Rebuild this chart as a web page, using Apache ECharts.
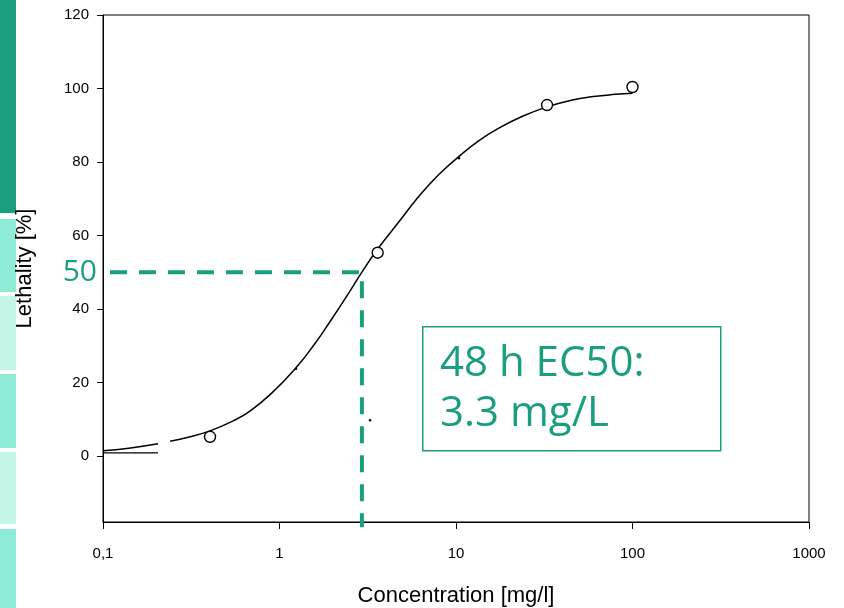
<!DOCTYPE html>
<html>
<head>
<meta charset="utf-8">
<script src="https://cdn.jsdelivr.net/npm/echarts@6/dist/echarts.min.js"></script>
<style>
html,body{margin:0;padding:0;background:#fff;}
#chart{width:844px;height:608px;}
</style>
</head>
<body>
<div id="chart"></div>
<script>
// ---- data ----
var xTickValues = [0.1, 1, 10, 100, 1000];
var xTickLabels = ['0,1', '1', '10', '100', '1000'];
var yTickValues = [0, 20, 40, 60, 80, 100, 120];

// observed data points (concentration mg/l, lethality %)
var obsConc = [0.404, 3.6, 32.8, 100];
var obsLeth = [5.2, 55.3, 95.5, 100.4];

// tiny remnant marks
var dotConc = [1.24, 10.4, 3.26];
var dotLeth = [23.7, 81.0, 9.7];

// fitted curve (null = visible gap in the line)
var curveConc = [0.1, 0.14, 0.205, 0.24, 0.3, 0.404, 0.55, 0.68, 0.9, 1.24, 1.6, 1.93, 2.4, 2.93, 3.6, 4.8, 6, 7.1, 8.5, 10.4, 13.5, 17.8, 24, 32.8, 45, 60, 80, 100];
var curveLeth = [1.4, 2.1, 3.3, null, 5.0, 6.8, 9.6, 12.2, 17.0, 24.0, 30.8, 36.5, 43.4, 50.0, 56.3, 64.0, 70.0, 74.0, 77.8, 81.5, 85.8, 89.4, 92.5, 95.0, 96.8, 97.8, 98.4, 98.7];
var curveLeth2 = 4.0;

// short flat line near zero at the left end
var flatConc = [0.1, 0.205];
var flatLeth = [0.8, 0.8];

// EC50 guide
var ec50X = 2.93;
var ec50Y = 50;
var guideStartX = 0.1095;
var guideEndY = -19.4;
var ec50Label = '50';
var boxLines = ['48 h EC50:', '3.3 mg/L'];

var GREEN = '#1a9e80';

function pairs(xs, ys) {
  return xs.map(function (x, i) { return [x, ys[i]]; });
}
var curveData = [];
curveConc.forEach(function (x, i) {
  if (curveLeth[i] === null) {
    curveData.push([x, '-']);
    curveData.push([x, curveLeth2]);
  } else {
    curveData.push([x, curveLeth[i]]);
  }
});

var chart = echarts.init(document.getElementById('chart'), null, {renderer: 'canvas'});
var tickFont = {fontFamily: 'Liberation Sans, Arial, sans-serif', fontSize: 15, color: '#000'};
var nameFont = {fontFamily: 'Liberation Sans, Arial, sans-serif', fontSize: 22, color: '#000'};

var option = {
  animation: false,
  backgroundColor: '#fff',
  grid: {left: 103, right: 35, top: 15, bottom: 86, containLabel: false, outerBoundsMode: 'none',
    show: true, borderColor: '#000', borderWidth: 1, backgroundColor: 'transparent'},
  xAxis: {
    type: 'log', logBase: 10, min: 0.1, max: 1000,
    name: 'Concentration [mg/l]', nameLocation: 'middle', nameGap: 63,
    nameTextStyle: nameFont,
    axisLine: {onZero: false, lineStyle: {color: '#000', width: 1}},
    axisTick: {show: true, length: 7, lineStyle: {color: '#000'}},
    minorTick: {show: false},
    splitLine: {show: false},
    axisLabel: Object.assign({margin: 24, formatter: function (v) {
      var k = Math.round(Math.log10(v)) + 1;
      return xTickLabels[k] !== undefined ? xTickLabels[k] : '';
    }}, tickFont)
  },
  yAxis: {
    type: 'value', min: -18, max: 120,
    name: 'Lethality [%]', nameLocation: 'middle', nameGap: 67, nameRotate: 90,
    nameTextStyle: nameFont,
    axisLine: {show: true, onZero: false, lineStyle: {color: '#000', width: 1}},
    axisTick: {show: true, length: 6, customValues: yTickValues, lineStyle: {color: '#000'}},
    splitLine: {show: false},
    axisLabel: Object.assign({margin: 14, customValues: yTickValues}, tickFont)
  },
  graphic: [
    {type: 'rect', left: 0, top: 0, shape: {width: 16, height: 213}, style: {fill: '#1a9e80'}, silent: true},
    {type: 'rect', left: 0, top: 219, shape: {width: 16, height: 73}, style: {fill: '#8eecd6'}, silent: true},
    {type: 'rect', left: 0, top: 296, shape: {width: 16, height: 74}, style: {fill: '#c3f5e8'}, silent: true},
    {type: 'rect', left: 0, top: 374, shape: {width: 16, height: 74}, style: {fill: '#8eecd6'}, silent: true},
    {type: 'rect', left: 0, top: 452, shape: {width: 16, height: 72}, style: {fill: '#c3f5e8'}, silent: true},
    {type: 'rect', left: 0, top: 529, shape: {width: 16, height: 79}, style: {fill: '#8eecd6'}, silent: true},
    {type: 'rect', left: 422, top: 326, shape: {width: 298, height: 124}, style: {fill: '#fff', stroke: GREEN, lineWidth: 1.5}, z: 100},
    {type: 'text', left: 440, top: 343, style: {text: boxLines[0], fill: GREEN, font: '42px "Open Sans", "Noto Sans", sans-serif'}, z: 101},
    {type: 'text', left: 440, top: 393, style: {text: boxLines[1], fill: GREEN, font: '42px "Open Sans", "Noto Sans", sans-serif'}, z: 101}
  ],
  series: [
    {
      type: 'line', name: 'guide', data: [[guideStartX, ec50Y], [ec50X, ec50Y], [ec50X, guideEndY]],
      symbol: 'none', clip: false, z: 3,
      lineStyle: {color: GREEN, width: 4, type: [17, 12]}
    },
    {
      type: 'scatter', name: 'label50', data: [[0.1, ec50Y]], symbolSize: 0,
      itemStyle: {opacity: 1, color: GREEN},
      label: {show: true, position: 'left', distance: 6, formatter: ec50Label, color: GREEN, opacity: 1,
        fontFamily: '"Open Sans", "Noto Sans", sans-serif', fontSize: 30}
    },
    {
      type: 'line', name: 'flat', data: pairs(flatConc, flatLeth), symbol: 'none',
      lineStyle: {color: '#000', width: 1.3}, z: 4
    },
    {
      type: 'line', name: 'curve', data: curveData, smooth: 0.5, symbol: 'none', connectNulls: false,
      lineStyle: {color: '#000', width: 1.5}, z: 4
    },
    {
      type: 'scatter', name: 'dots', data: pairs(dotConc, dotLeth), symbol: 'circle', symbolSize: 2.5,
      itemStyle: {color: '#000', opacity: 1}, z: 5
    },
    {
      type: 'scatter', name: 'observed', data: pairs(obsConc, obsLeth), symbol: 'circle', symbolSize: 11,
      itemStyle: {color: '#fff', borderColor: '#000', borderWidth: 1.4, opacity: 1}, z: 6
    }
  ]
};
chart.setOption(option);
</script>
</body>
</html>
